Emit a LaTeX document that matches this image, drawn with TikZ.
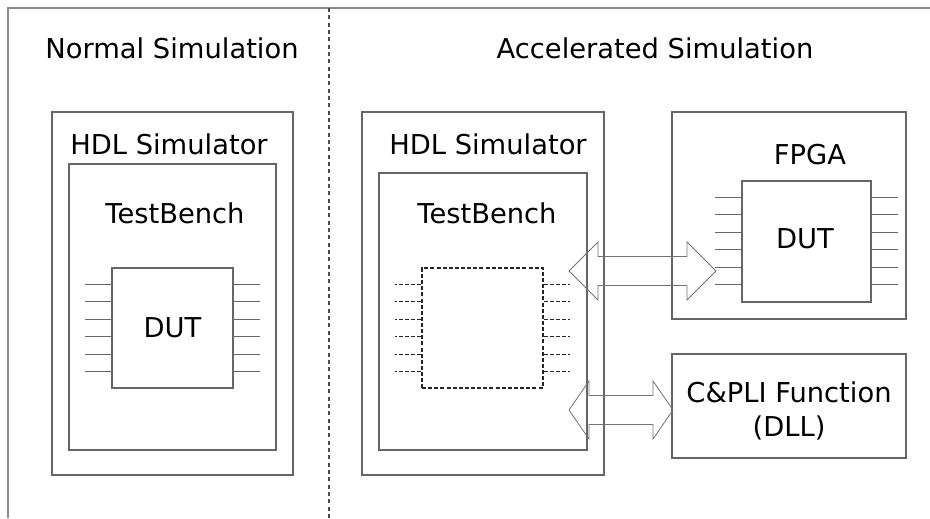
\documentclass[tikz,border=0pt]{standalone}
\usepackage{fontspec}
\setmainfont{DejaVu Sans}
\usetikzlibrary{fit,calc}

\tikzset{
  box/.style = {draw=black!60, line width=0.8pt, inner sep=0pt},
  lbl/.style = {font=\fontsize{20.5}{25.5}\selectfont, inner sep=0pt, align=center},
  pin/.style = {draw=black!60, line width=0.8pt},
  ghost/.style = {draw=black!85, line width=0.8pt, dash pattern=on 3pt off 1.6pt},
  bus/.style = {draw=black!55, line width=0.6pt, line join=miter},
  frame/.style = {draw=black!45, line width=0.8pt}
}

% six pins on each side of a chip
\newcommand{\pins}[2]{%
  \foreach \k in {0,...,5}{
    \draw[#2] ($(#1.north west)+(0,17+17.4*\k)$) -- ++(-26,0);
    \draw[#2] ($(#1.north east)+(0,17+17.4*\k)$) -- ++(26,0);
  }}

% hollow double arrow between two tips
\newcommand{\busarrow}[3]{%
  \draw[bus] (#1) -- ($(#1)+(#3,-29)$) -- ($(#1)+(#3,-14.5)$)
    -- ($(#2)+(-#3,-14.5)$) -- ($(#2)+(-#3,-29)$) -- (#2)
    -- ($(#2)+(-#3,29)$) -- ($(#2)+(-#3,14.5)$)
    -- ($(#1)+(#3,14.5)$) -- ($(#1)+(#3,29)$) -- cycle;}

\begin{document}
\begin{tikzpicture}[x=0.75pt, y=-0.75pt]
  \useasboundingbox (0,0) rectangle (930,518);
  \draw[frame] (8,518) -- (8,8) -- (930,8);
  \draw[black!70, line width=0.8pt, dash pattern=on 3pt off 2.5pt] (329,8) -- (329,518);

  % normal simulation
  \node[lbl] (normT) at (172,48) {Normal Simulation};
  \node[box, fit={(52,112) (293,475)}] (hdlA) {};
  \node[lbl] (hdlAT) at (169,144) {HDL Simulator};
  \node[box, fit={(69,164) (276,450)}] (tbA) {};
  \node[lbl] (tbAT) at (175,213) {TestBench};
  \node[box, fit={(112,268) (233,388)}] (dutA) {};
  \node[lbl] (dutAT) at (dutA) {DUT};
  \pins{dutA}{pin}

  % accelerated simulation
  \node[lbl] (accT) at (655,48) {Accelerated Simulation};
  \node[box, fit={(362,112) (604,475)}] (hdlB) {};
  \node[lbl] (hdlBT) at (488,144) {HDL Simulator};
  \node[box, fit={(379,173) (587,450)}] (tbB) {};
  \node[lbl] (tbBT) at (487,213) {TestBench};
  \node[ghost, inner sep=0pt, fit={(422,268) (543,388)}] (dutB) {};
  \pins{dutB}{ghost}

  \node[box, fit={(672,112) (906,319)}] (fpga) {};
  \node[lbl] (fpgaT) at (810,155) {FPGA};
  \node[box, fit={(742,181) (871,302)}] (dutF) {};
  \node[lbl] (dutFT) at (805,239) {DUT};
  \pins{dutF}{pin}

  \node[box, fit={(672,354) (906,458)}] (cpli) {};
  \node[lbl] (cpliT) at (789,411) {C\&PLI Function\\(DLL)};

  \coordinate (busAl) at (569,271);
  \coordinate (busAr) at (716,271);
  \coordinate (busBl) at (569,410);
  \coordinate (busBr) at (673,410);
  \busarrow{busAl}{busAr}{29}
  \busarrow{busBl}{busBr}{20}
\end{tikzpicture}
\end{document}
